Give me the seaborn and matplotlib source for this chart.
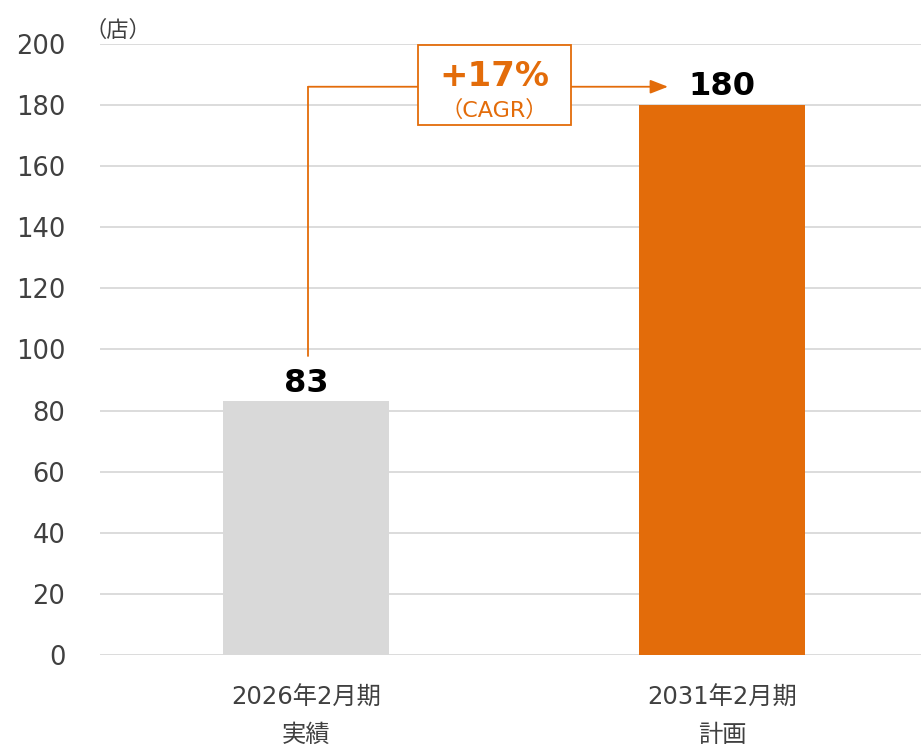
import matplotlib.pyplot as plt
import seaborn as sns
import pandas as pd

# data
periods = ["2026年2月期\n実績", "2031年2月期\n計画"]
stores = [83, 180]
bar_colors = ["#d9d9d9", "#e36c0a"]
cagr_text = "+17%"
unit_text = "（店）"

sns.set_theme(style="whitegrid")
plt.rcParams['font.family'] = ['DejaVu Sans', 'Noto Sans CJK JP']

df = pd.DataFrame({"period": periods, "stores": stores})

fig = plt.figure(figsize=(9.21, 7.49), dpi=100)
ax = fig.add_axes([0.1086, 0.1255, 0.8914, 0.8158])

sns.barplot(data=df, x="period", y="stores", hue="period", palette=bar_colors,
            width=0.4, legend=False, ax=ax, saturation=1, linewidth=0)

ax.set_ylim(0, 200)
ax.set_xlim(-0.495, 1.478)
ax.set_yticks(range(0, 201, 20))
ax.grid(axis="y", color="#d9d9d9", linewidth=1.3)
ax.grid(axis="x", visible=False)
for s in ax.spines.values():
    s.set_visible(False)
ax.set_xlabel("")
ax.set_ylabel("")
ax.tick_params(axis="y", labelsize=18.5, labelcolor="#404040", pad=25, length=0)
ax.tick_params(axis="x", labelsize=17.5, labelcolor="#404040", pad=22, length=0)
for lbl in ax.get_xticklabels():
    lbl.set_linespacing(1.7)

# value labels
for i, v in enumerate(stores):
    ax.text(i, v + 6, str(v), ha="center", va="center", fontsize=23,
            fontweight="bold", color="black")

# CAGR connector
orange = "#e36c0a"
ax.plot([0.005, 0.005], [98, 186], color=orange, lw=1.3)
ax.annotate("", xy=(0.87, 186), xytext=(0.005, 186),
            arrowprops=dict(arrowstyle="-|>,head_length=0.9,head_width=0.35",
                            color=orange, lw=1.3, shrinkA=0, shrinkB=0))
box = plt.Rectangle((0.268, 173.5), 0.368, 26.2, facecolor="white",
                    edgecolor=orange, lw=1.3, zorder=3)
ax.add_patch(box)
ax.text(0.452, 189.5, cagr_text, ha="center", va="center", fontsize=24.5,
        fontweight="bold", color=orange, zorder=4)
ax.text(0.452, 178.3, "（CAGR）", ha="center", va="center", fontsize=16,
        color=orange, zorder=4)

fig.text(0.092, 0.959, unit_text, ha="left", va="center", fontsize=16,
         color="#404040")

fig.savefig("out.png", dpi=100)
